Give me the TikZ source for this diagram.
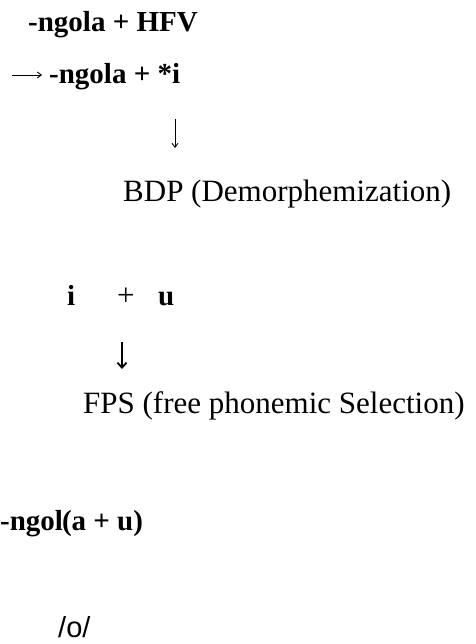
\documentclass[tikz,border=0pt]{standalone}
\usepackage{fontspec}
\setmainfont{Liberation Serif}
\newfontfamily\arialfont{Liberation Sans}
\usetikzlibrary{arrows.meta}
\tikzset{
  txt/.style={anchor=base west, inner sep=0pt, font=\fontsize{31}{36}\selectfont},
  btxt/.style={anchor=base west, inner sep=0pt, font=\fontsize{29}{34}\selectfont\bfseries},
  stxt/.style={anchor=base west, inner sep=0pt, font=\fontsize{29}{34}\selectfont\arialfont},
  thinarrow/.style={line width=0.9pt, -{Straight Barb[length=4pt,width=6pt]}},
  thickarrow/.style={line width=1.8pt, -{Straight Barb[length=5pt,width=9pt]}}
}
\begin{document}
\begin{tikzpicture}[x=1pt,y=-1pt]
\useasboundingbox (0,0) rectangle (475,644);
\node[btxt] (l1) at (28,32) {-ngola + HFV};
\node[btxt] (l2) at (49,84) {-ngola + *i};
\coordinate (ra) at (12,75);
\coordinate (rb) at (42,75);
\draw[thinarrow] (ra) -- (rb);
\coordinate (d1a) at (175,119);
\coordinate (d1b) at (175,148);
\draw[thinarrow] (d1a) -- (d1b);
\node[txt] (bdp) at (123,202) {BDP (Demorphemization)};
\node[btxt] (vi) at (67,305) {i};
\node[txt] (vp) at (117,305) {+};
\node[btxt] (vu) at (158,305) {u};
\coordinate (d2a) at (122,342);
\coordinate (d2b) at (122,369);
\draw[thickarrow] (d2a) -- (d2b);
\node[txt] (fps) at (83,413) {FPS (free phonemic Selection)};
\node[btxt] (l3) at (0,530) {-ngol\kern-1pt(a + u)};
\node[stxt] (o) at (58,637) {/o/};
\end{tikzpicture}
\end{document}
